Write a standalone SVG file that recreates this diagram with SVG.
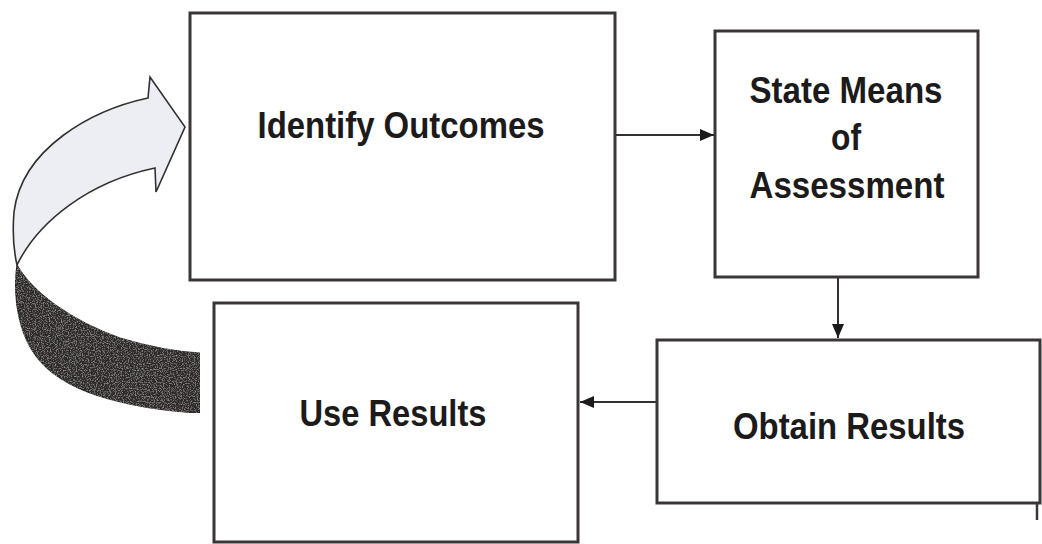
<svg xmlns="http://www.w3.org/2000/svg" width="1042" height="544" viewBox="0 0 1042 544">
  <style>
    .box { fill: #ffffff; stroke: #3a3636; stroke-width: 3; }
    .lbl { font-family: "Liberation Sans", Arial, sans-serif; font-weight: bold; font-size: 36px; fill: #1c1a1a; text-anchor: middle; }
    .conn { fill: none; stroke: #333030; stroke-width: 2; }
  </style>
  <defs>
    <marker id="tri" viewBox="0 0 14 12" refX="14" refY="6" markerWidth="14" markerHeight="12" markerUnits="userSpaceOnUse" orient="auto">
      <path d="M0,0 L14,6 L0,12 Z" fill="#1c1a1a"/>
    </marker>
    <!-- speckled texture for the dark underside of the loop arrow -->
    <filter id="grain" x="0" y="0" width="100%" height="100%">
      <feTurbulence type="fractalNoise" baseFrequency="0.85" numOctaves="2" seed="7" result="n"/>
      <feColorMatrix in="n" type="matrix" values="0 0 0 0 0.6  0 0 0 0 0.58  0 0 0 0 0.58  0 0 0 1.3 -0.62" result="spk"/>
      <feComposite in="spk" in2="SourceGraphic" operator="in" result="s"/>
      <feMerge><feMergeNode in="SourceGraphic"/><feMergeNode in="s"/></feMerge>
    </filter>
  </defs>

  <rect width="1042" height="544" fill="#ffffff"/>

  <!-- feedback loop arrow: dark back face, light front face with head -->
  <g id="loop-arrow">
    <path d="M17,265 C32,292 70,320 120,338 C150,347 180,352 200,353 L200,413 C140,410 72,396 42,363 C20,340 12,300 17,265 Z"
          fill="#2e2a2a" stroke="#2a2626" stroke-width="1.2" filter="url(#grain)"/>
    <path d="M148,98 C92,110 22,148 14,212 C12,236 14,252 17,265 C38,222 88,182 155,168 L156,192 L185,127 L150,77 Z"
          fill="#eceef3" stroke="#333030" stroke-width="1.6" stroke-linejoin="miter"/>
  </g>

  <g id="identify-outcomes">
    <rect class="box" x="190" y="13" width="425" height="267"/>
    <text class="lbl" x="401" y="138" textLength="287" lengthAdjust="spacingAndGlyphs">Identify Outcomes</text>
  </g>

  <g id="state-means">
    <rect class="box" x="715" y="31" width="263" height="246"/>
    <text class="lbl" x="846" y="103" textLength="193" lengthAdjust="spacingAndGlyphs">State Means</text>
    <text class="lbl" x="846" y="150" textLength="30" lengthAdjust="spacingAndGlyphs">of</text>
    <text class="lbl" x="847" y="198" textLength="195" lengthAdjust="spacingAndGlyphs">Assessment</text>
  </g>

  <g id="obtain-results">
    <rect class="box" x="657" y="340" width="383" height="163"/>
    <line x1="1037" y1="503" x2="1037" y2="520" stroke="#3a3636" stroke-width="2.5"/>
    <text class="lbl" x="849" y="439" textLength="232" lengthAdjust="spacingAndGlyphs">Obtain Results</text>
  </g>

  <g id="use-results">
    <rect class="box" x="214" y="303" width="364" height="239"/>
    <text class="lbl" x="393" y="426" textLength="187" lengthAdjust="spacingAndGlyphs">Use Results</text>
  </g>

  <g id="connectors">
    <line class="conn" x1="616" y1="135" x2="714" y2="135" marker-end="url(#tri)"/>
    <line class="conn" x1="838" y1="278" x2="838" y2="338" marker-end="url(#tri)"/>
    <line class="conn" x1="656" y1="402" x2="580" y2="402" marker-end="url(#tri)"/>
  </g>
</svg>
